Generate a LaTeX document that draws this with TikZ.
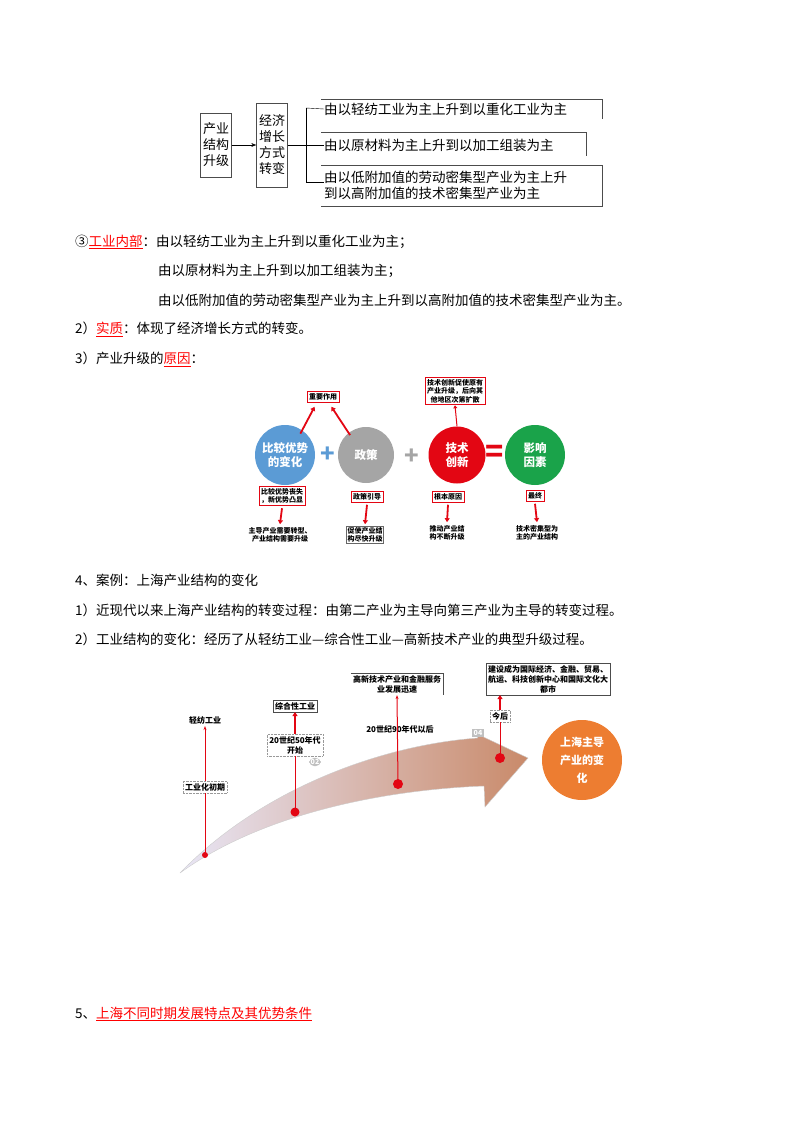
\documentclass[tikz,border=0pt]{standalone}
\usepackage{fontspec}
\setmainfont{Noto Sans CJK SC}
\usetikzlibrary{arrows.meta,calc}
\definecolor{cblue}{HTML}{5B9BD5}
\definecolor{cgray}{HTML}{A5A5A5}
\definecolor{cred}{HTML}{E30613}
\definecolor{cgreen}{HTML}{1AA34A}
\definecolor{corange}{HTML}{ED7D31}
\definecolor{lav}{HTML}{E8E6F6}
\definecolor{tan}{HTML}{C98A6A}
\newcommand{\ru}[1]{\textcolor{red}{\underline{#1}}}
\begin{document}
\begin{tikzpicture}[x=1pt,y=-1pt,
  body/.style={anchor=west,inner sep=0pt,font=\fontsize{13.5}{16}\selectfont},
  tb/.style={draw=black!70,inner sep=1.5pt,font=\fontsize{13}{16}\selectfont,align=center},
  circ/.style={circle,text=white,font=\bfseries\fontsize{11.5}{14}\selectfont,align=center,inner sep=0pt},
  rb/.style={draw=cred,line width=0.8pt,fill=white,font=\bfseries\fontsize{7}{8.5}\selectfont,align=center,inner sep=2pt},
  pl/.style={font=\bfseries\fontsize{7}{8.5}\selectfont,align=center,inner sep=1pt},
  rarr/.style={-{Triangle[length=4pt,width=5pt]},cred,line width=1.8pt},
  rl/.style={cred,line width=1pt},
  sm/.style={font=\bfseries\fontsize{8}{10}\selectfont,align=center,inner sep=2pt}]
\useasboundingbox (0,0) rectangle (800,1132);
% ---------- top diagram
\node[tb,minimum height=64pt,text width=28pt] (cy) at (216,145) {产业\\结构\\升级};
\node[tb,minimum height=84pt,text width=28pt] (jj) at (272,145) {经济\\增长\\方式\\转变};
\draw[-{Stealth[length=5pt]}] (cy) -- (jj);
\coordinate (b0) at (306,145);
\draw (jj.east) -- (b0);
\draw (306,108) -- (306,182);
\node[body] (t1) at (324,109) {由以轻纺工业为主上升到以重化工业为主};
\node[body] (t2) at (324,145) {由以原材料为主上升到以加工组装为主};
\node[body,align=left] (t3) at (324,185) {由以低附加值的劳动密集型产业为主上升\\到以高附加值的技术密集型产业为主};
\draw (306,108) -- (t1.west);
\draw (306,145) -- (t2.west);
\draw (306,182) -- (324,182);
\draw[black!70] (321,99) -- (602,99) -- (602,119);
\draw[black!70] (321,132) -- (586,132) -- (586,156);
\draw[black!70] (321,165) -- (602,165) -- (602,206) -- (321,206);
% ---------- text
\node[body] (l1) at (75,242) {③\ru{工业内部}：由以轻纺工业为主上升到以重化工业为主；};
\node[body] (l2) at (158,271) {由以原材料为主上升到以加工组装为主；};
\node[body] (l3) at (158,300) {由以低附加值的劳动密集型产业为主上升到以高附加值的技术密集型产业为主。};
\node[body] (l4) at (75,329) {2）\ru{实质}：体现了经济增长方式的转变。};
\node[body] (l5) at (75,359) {3）产业升级的\ru{原因}：};
% ---------- second diagram
\node[circ,fill=cblue,minimum size=60pt] (c1) at (285,455) {比较优势\\的变化};
\node[circ,fill=cgray,minimum size=56pt] (c2) at (366,455) {政策};
\node[circ,fill=cred,minimum size=57pt] (c3) at (457,455) {技术\\创新};
\node[circ,fill=cgreen,minimum size=60pt] (c4) at (535,455) {影响\\因素};
\node[text=cblue,font=\bfseries\fontsize{24}{24}\selectfont,inner sep=0pt] (p1) at (328,455) {+};
\node[text=cgray,font=\bfseries\fontsize{24}{24}\selectfont,inner sep=0pt] (p2) at (412,457) {+};
\node[text=cred,font=\bfseries\fontsize{30}{30}\selectfont,inner sep=0pt] (p3) at (495,454) {=};
\node[rb] (zy) at (323,397) {重要作用};
\draw[rarr] ($(c1.north east)+(-6,0)$) -- ($(zy.south west)+(8,4)$);
\draw[rarr] ($(c2.north west)+(4,0)$) -- ($(zy.south east)+(-8,4)$);
\node[rb] (js) at (455,391) {技术创新促使原有\\产业升级，后向其\\他地区次第扩散};
\draw[-{Triangle[length=3pt,width=4pt]},cred,line width=1pt] (c3.north) -- (js.south);
\node[rb] (d1) at (282,496) {比较优势丧失\\，新优势凸显};
\node[rb] (d2) at (367,497) {政策引导};
\node[rb] (d3) at (448,497) {根本原因};
\node[rb] (d4) at (535,496) {最终};
\node[pl] (e1) at (280,535) {主导产业需要转型、\\产业结构需要升级};
\node[pl,draw=black!60] (e2) at (365,535) {促使产业结\\构尽快升级};
\node[pl] (e3) at (447,533) {推动产业结\\构不断升级};
\node[pl] (e4) at (537,533) {技术密集型为\\主的产业结构};
\foreach \a/\b in {d1/e1,d2/e2,d3/e3,d4/e4}{\draw[rarr] ($(\a.south)+(0,2)$) -- ($(\b.north)+(0,-2)$);}
% ---------- text
\node[body] (l6) at (75,580) {4、案例：上海产业结构的变化};
\node[body] (l7) at (75,610) {1）近现代以来上海产业结构的转变过程：由第二产业为主导向第三产业为主导的转变过程。};
\node[body] (l8) at (75,639) {2）工业结构的变化：经历了从轻纺工业—综合性工业—高新技术产业的典型升级过程。};
% ---------- third diagram
\shade[left color=lav,right color=tan,draw=black!20] (180,873) .. controls (260,790) and (380,745) .. (478,738)
  -- (475,733) -- (528,758) -- (485,807) -- (484,786)
  .. controls (380,790) and (260,815) .. (180,873) -- cycle;
\node[circ,fill=corange,minimum size=80pt,font=\bfseries\fontsize{11}{18}\selectfont] (sh) at (582,760) {上海主导\\产业的变\\化};
\node[fill=cgray!70,text=white,rounded corners=5pt,font=\bfseries\fontsize{7}{8}\selectfont,inner sep=1.5pt] (n2) at (315,762) {02};
\node[fill=cgray!70,text=white,font=\bfseries\fontsize{7}{8}\selectfont,inner sep=1.5pt] (n4) at (478,733) {04};
% dots
\fill[cred] (205,855) circle (3pt);
\fill[cred] (295,812) circle (4.5pt);
\fill[cred] (398,784) circle (5pt);
\fill[cred] (500,758) circle (5pt);
\coordinate (dA) at (205,855);
\coordinate (dB) at (295,812);
\coordinate (dC) at (398,784);
\coordinate (dD) at (500,758);
% labels
\node[sm] (a1) at (205,720) {轻纺工业};
\node[sm,draw=black!40,densely dotted] (a2) at (205,787) {工业化初期};
\draw[rl] (dA) -- (a2.south);
\draw[rl,-{Stealth[length=4pt]}] (a2.north) -- (a1.south);
\node[sm,draw=black!40,densely dotted] (b1) at (295,745) {20世纪50年代\\开始};
\node[sm,draw=black!70] (b2) at (295,706) {综合性工业};
\draw[rl] (dB) -- (b1.south);
\draw[rarr] (b1.north) -- (b2.south);
\node[sm] (c1t) at (400,729) {20世纪90年代以后};
\node[sm] (c2t) at (397,684) {高新技术产业和金融服务\\业发展迅速};
\draw[black!70] (c2t.north west) -- (c2t.north east) -- (c2t.south east);
\draw[rl,-{Stealth[length=4pt]}] (dC) -- (c2t.south);
\node[sm,draw=black!40,densely dotted] (d1t) at (500,716) {今后};
\node[sm,draw=black!70] (d2t) at (548,679) {建设成为国际经济、金融、贸易、\\航运、科技创新中心和国际文化大\\都市};
\draw[rl] (dD) -- (d1t.south);
\draw[rarr] (d1t.north) -- (d2t.south -| d1t.north);
% ---------- text
\node[body] (l9) at (75,1014) {5、\ru{上海不同时期发展特点及其优势条件}};
\end{tikzpicture}
\end{document}
